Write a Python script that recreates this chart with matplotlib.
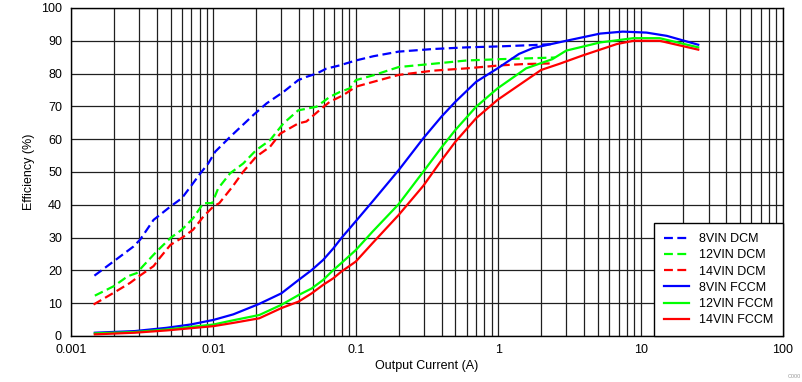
import matplotlib.pyplot as plt
from matplotlib.ticker import LogLocator, NullFormatter, FixedLocator

plt.rcParams['font.family'] = ['Liberation Sans', 'DejaVu Sans']

# DCM curves (dashed)
x_8dcm = [0.00146, 0.002, 0.00275, 0.00306, 0.0038, 0.005, 0.006, 0.0069, 0.0081, 0.0092,
          0.0103, 0.0131, 0.019, 0.0236, 0.031, 0.0394, 0.045, 0.053, 0.062, 0.077, 0.1,
          0.133, 0.2, 0.35, 0.6, 1.03, 1.76, 2.4]
y_8dcm = [18.4, 22.8, 27.3, 29.4, 35.4, 39.5, 42.0, 45.5, 49.6, 52.6,
          56.2, 60.7, 67.3, 70.9, 74.4, 78.0, 79.0, 80.0, 81.5, 82.5, 84.0,
          85.3, 86.7, 87.5, 88.0, 88.3, 88.7, 89.0]

x_12dcm = [0.00147, 0.002, 0.0025, 0.0029, 0.0032, 0.004, 0.005, 0.006, 0.0072, 0.0085,
           0.0098, 0.0108, 0.0131, 0.0162, 0.02, 0.025, 0.031, 0.0394, 0.053, 0.0656,
           0.0773, 0.0907, 0.1, 0.133, 0.2, 0.35, 0.6, 1.03, 1.76, 2.5]
y_12dcm = [12.3, 15.2, 18.2, 19.2, 21.3, 25.8, 29.9, 32.4, 35.9, 40.5,
           40.5, 45.0, 49.6, 52.6, 56.7, 59.7, 64.8, 68.8, 69.9, 72.9,
           74.4, 75.5, 78.0, 79.5, 82.0, 83.0, 84.0, 84.4, 84.7, 84.9]

x_14dcm = [0.00144, 0.002, 0.0026, 0.003, 0.0038, 0.0042, 0.005, 0.006, 0.0072, 0.0085,
           0.01, 0.011, 0.0136, 0.0162, 0.02, 0.025, 0.0295, 0.0394, 0.045, 0.0558,
           0.0656, 0.0815, 0.1, 0.133, 0.2, 0.35, 0.6, 1.03, 1.5, 2.3]
y_14dcm = [9.6, 13.2, 16.2, 18.2, 21.3, 23.8, 27.8, 29.9, 32.4, 36.4,
           39.5, 40.5, 45.5, 50.1, 54.7, 57.7, 61.7, 64.8, 65.4, 68.9,
           71.4, 73.4, 76.0, 77.5, 79.6, 80.9, 81.6, 82.5, 82.9, 83.1]

# FCCM curves (solid)
x_8fccm = [0.00147, 0.0028, 0.0047, 0.0069, 0.01, 0.0138, 0.021, 0.03, 0.0397, 0.049,
           0.059, 0.0695, 0.079, 0.1, 0.131, 0.177, 0.202, 0.298, 0.4, 0.5,
           0.7, 0.99, 1.4, 1.76, 3.0, 5.2, 7.5, 11, 15.3, 25.4]
y_8fccm = [1.0, 1.5, 2.5, 3.5, 4.9, 6.6, 9.8, 13.0, 17.1, 20.1,
           23.2, 26.7, 29.8, 35.0, 41.0, 47.8, 50.8, 60.3, 66.9, 71.4,
           77.5, 81.6, 86.0, 87.8, 90.0, 92.2, 92.8, 92.5, 91.5, 88.8]

x_12fccm = [0.00147, 0.0028, 0.0047, 0.01, 0.0138, 0.021, 0.03, 0.0397, 0.049, 0.059,
            0.0695, 0.079, 0.1, 0.131, 0.2, 0.265, 0.298, 0.4, 0.5, 0.7,
            0.99, 1.57, 2.4, 3.0, 5.2, 8.9, 13.6, 25.4]
y_12fccm = [0.8, 1.2, 2.0, 3.5, 4.8, 6.4, 9.5, 12.5, 14.5, 17.1,
            20.1, 22.2, 26.2, 31.8, 40.2, 47.2, 50.1, 57.5, 62.8, 69.9,
            75.5, 81.6, 84.4, 87.0, 89.5, 90.8, 90.8, 88.0]

x_14fccm = [0.00147, 0.0028, 0.0047, 0.01, 0.0138, 0.021, 0.03, 0.0397, 0.049, 0.059,
            0.0695, 0.079, 0.1, 0.131, 0.2, 0.298, 0.4, 0.5, 0.7, 0.99,
            2.0, 2.7, 3.9, 6.8, 8.9, 13.6, 25.4]
y_14fccm = [0.5, 1.0, 1.7, 3.0, 4.0, 5.4, 8.5, 10.5, 13.0, 15.6,
            17.6, 19.6, 22.7, 28.3, 36.9, 45.8, 53.6, 59.2, 66.4, 72.0,
            81.1, 83.0, 85.5, 89.0, 90.0, 90.0, 87.3]

fig = plt.figure(figsize=(8.03, 3.82), dpi=100)
ax = fig.add_axes([71 / 803, 1 - 336 / 382, (783 - 71) / 803, (336 - 8) / 382])

dash = (0, (4, 2))
lw = 1.6
ax.plot(x_8dcm, y_8dcm, color='#0000ff', lw=lw, ls=dash, label='8VIN DCM')
ax.plot(x_12dcm, y_12dcm, color='#00ff00', lw=lw, ls=dash, label='12VIN DCM')
ax.plot(x_14dcm, y_14dcm, color='#ff0000', lw=lw, ls=dash, label='14VIN DCM')
ax.plot(x_8fccm, y_8fccm, color='#0000ff', lw=lw, label='8VIN FCCM')
ax.plot(x_12fccm, y_12fccm, color='#00ff00', lw=lw, label='12VIN FCCM')
ax.plot(x_14fccm, y_14fccm, color='#ff0000', lw=lw, label='14VIN FCCM')

ax.set_xscale('log')
ax.set_xlim(0.001, 100)
ax.set_ylim(0, 100)
ax.xaxis.set_major_locator(FixedLocator([0.001, 0.01, 0.1, 1, 10, 100]))
ax.set_xticklabels(['0.001', '0.01', '0.1', '1', '10', '100'])
ax.xaxis.set_minor_locator(LogLocator(base=10, subs=range(2, 10), numticks=20))
ax.xaxis.set_minor_formatter(NullFormatter())
ax.set_yticks(range(0, 101, 10))

ax.grid(True, which='both', color='#202020', lw=0.9)
ax.tick_params(which='both', length=0, labelsize=9)
ax.tick_params(axis='x', pad=6)
ax.tick_params(axis='y', pad=6.5)
for s in ax.spines.values():
    s.set_color('black')
    s.set_linewidth(1.0)

ax.set_xlabel('Output Current (A)', fontsize=9, labelpad=3)
ax.set_ylabel('Efficiency (%)', fontsize=9, labelpad=4)

leg = ax.legend(loc='lower right', fontsize=9, frameon=True, fancybox=False,
                edgecolor='black', framealpha=1, borderaxespad=0, handlelength=2.0,
                labelspacing=0.33, borderpad=0.8, handletextpad=0.8)
leg.get_frame().set_linewidth(1.0)

fig.text(0.997, 0.008, 'C000', fontsize=4, color='#999999', ha='right', va='bottom')

fig.savefig('out.png', dpi=100)
